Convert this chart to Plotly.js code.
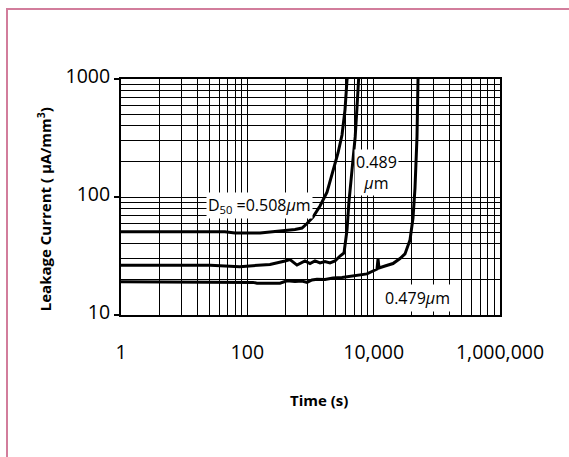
<!DOCTYPE html>
<html><head><meta charset="utf-8">
<script src="https://cdn.plot.ly/plotly-3.0.1.min.js"></script>
<style>
html,body{margin:0;padding:0;background:#fff;}
#wrap{position:relative;width:569px;height:457px;overflow:hidden;}
#chart{width:569px;height:457px;}
#frame{position:absolute;left:6px;top:8px;width:600px;height:500px;border-top:2px solid #d27d9c;border-left:2px solid #d27d9c;pointer-events:none;}
</style></head>
<body><div id="wrap"><div id="chart"></div><div id="frame"></div></div>
<script>
// Time in seconds, leakage current in uA/mm^3
const t508 = [1, 44, 64, 92, 159, 274, 395, 568, 733, 880, 1095, 1414, 1825, 2272, 2725, 3153, 3517, 3783, 3924];
const i508 = [50.8, 50.8, 49.5, 49.3, 49.5, 51.0, 52.0, 53.0, 54.6, 59.6, 67.7, 83.9, 110, 163, 236, 335, 546, 981, 1146];

const t489 = [1, 26, 76, 228, 395, 474, 611, 818, 982, 1178, 1414, 1696, 2036, 2442, 2931, 3391, 3783, 4050, 4540, 5100, 5450, 5860];
const i489 = [26.4, 26.4, 25.7, 26.8, 28.7, 29.5, 26.5, 28.7, 27.3, 28.7, 27.6, 28.4, 27.6, 28.7, 31.6, 33.5, 52.5, 89, 169, 323, 580, 1146];

const t479 = [1, 123, 142, 329, 425, 568, 733, 880, 1056, 1267, 1696, 2272, 3153, 4220, 5650, 7844, 9759, 11290, 11710, 12150, 15110, 20230, 26110, 31330, 37600, 41950, 45110, 48530, 50330, 51250];
const i479 = [19.15, 18.9, 18.6, 18.6, 19.5, 19.2, 19.4, 18.9, 19.8, 20.1, 20.0, 20.6, 20.8, 21.2, 21.6, 22.3, 23.6, 24.5, 29.8, 25.0, 26.0, 27.3, 30.1, 32.9, 43.2, 66.4, 119, 323, 981, 1146];

const xTickVals = [1, 100, 10000, 1000000];
const xTickText = ["1", "100", "10,000", "1,000,000"];
const yTickVals = [10, 100, 1000];
const yTickText = ["10", "100", "1000"];

// grid: each printed decade spans two decades of time
const xMinor = [];
for (let n = 0; n < 3; n++) for (let k = 2; k <= 9; k++) xMinor.push(k * k * Math.pow(100, n));
const yMinor = [];
for (let n = 1; n < 3; n++) for (let k = 2; k <= 9; k++) yMinor.push(k * Math.pow(10, n));

const line = {color: '#000', width: 3};
const traces = [
  {x: t508, y: i508, mode: 'lines', line: line, hoverinfo: 'skip'},
  {x: t489, y: i489, mode: 'lines', line: line, hoverinfo: 'skip'},
  {x: t479, y: i479, mode: 'lines', line: line, hoverinfo: 'skip'}
];

const fam = 'Open Sans, Noto Sans, sans-serif';
const layout = {
  width: 569, height: 457,
  margin: {l: 121, r: 69, t: 79, b: 142},
  paper_bgcolor: '#fff', plot_bgcolor: '#fff',
  showlegend: false,
  font: {family: fam, color: '#000'},
  xaxis: {
    type: 'log', range: [0, 6],
    tickmode: 'array', tickvals: xTickVals, ticktext: xTickText,
    ticks: 'outside', ticklen: 19, tickcolor: 'rgba(0,0,0,0)',
    tickfont: {family: fam, size: 19.5, color: '#000'},
    showgrid: true, gridcolor: '#000', gridwidth: 1,
    minor: {tickmode: 'array', tickvals: xMinor, showgrid: true, gridcolor: '#000', gridwidth: 1, ticks: ''},
    showline: true, linecolor: '#000', linewidth: 2, mirror: true,
    zeroline: false
  },
  yaxis: {
    type: 'log', range: [1, 3],
    tickmode: 'array', tickvals: yTickVals, ticktext: yTickText,
    ticks: 'outside', ticklen: 5, tickwidth: 2, tickcolor: '#000',
    ticklabelshift: -3,
    tickfont: {family: fam, size: 19.5, color: '#000'},
    showgrid: true, gridcolor: '#000', gridwidth: 1,
    minor: {tickmode: 'array', tickvals: yMinor, showgrid: true, gridcolor: '#000', gridwidth: 1, ticks: ''},
    showline: true, linecolor: '#000', linewidth: 2, mirror: true,
    zeroline: false
  },
  annotations: [
    {xref: 'paper', yref: 'paper', x: 0.522, y: -0.36, xanchor: 'center', yanchor: 'middle', showarrow: false,
     text: '<b>Time (s)</b>', font: {family: fam, size: 15, color: '#000'}},
    {xref: 'paper', yref: 'paper', x: -0.202, y: 0.45, xanchor: 'center', yanchor: 'middle', showarrow: false, textangle: -90,
     text: '<b>Leakage Current ( μA/mm<sup>3</sup>)</b>', font: {family: fam, size: 15, color: '#000'}},
    {x: Math.log10(155), y: Math.log10(85.5), xref: 'x', yref: 'y', showarrow: false,
     text: 'D<sub>50</sub> =0.508<i>μ</i>m', bgcolor: '#fff', borderpad: 1,
     font: {family: fam, size: 16, color: '#000'}},
    {x: Math.log10(11000), y: Math.log10(160), xref: 'x', yref: 'y', showarrow: false,
     text: '0.489<br><i>μ</i>m', bgcolor: '#fff', borderpad: 1, align: 'center',
     font: {family: fam, size: 16, color: '#000'}},
    {x: Math.log10(49000), y: Math.log10(14), xref: 'x', yref: 'y', showarrow: false,
     text: '0.479<i>μ</i>m', bgcolor: '#fff', borderpad: 2,
     font: {family: fam, size: 16, color: '#000'}}
  ]
};
Plotly.newPlot('chart', traces, layout, {displayModeBar: false, staticPlot: true});
</script></body></html>
